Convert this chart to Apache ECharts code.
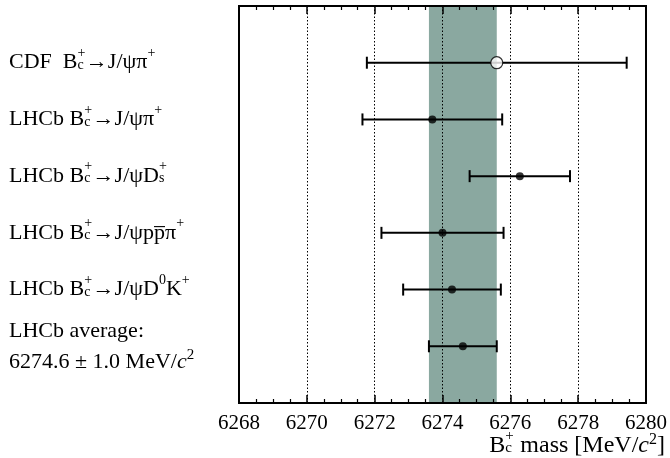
<!DOCTYPE html>
<html>
<head>
<meta charset="utf-8">
<script src="https://cdn.jsdelivr.net/npm/echarts@6/dist/echarts.min.js"></script>
<style>
  html, body { margin: 0; padding: 0; background: #fff; }
  #chart { width: 670px; height: 458px; }
</style>
</head>
<body>
<div id="chart"></div>
<script>
// measurements of the Bc+ mass, one row each (row 1 at the top)
const rows = [1, 2, 3, 4, 5, 6];
const masses = [6275.6, 6273.7, 6276.28, 6274.0, 6274.28, 6274.6];
const errors = [3.83, 2.06, 1.48, 1.8, 1.44, 1.0];
const hollow = [true, false, false, false, false, false];
const rowLabels = [
  '{t|CDF  B}{sp|+}{sb|c}{t|→J/ψπ}{up|+}',
  '{t|LHCb B}{sp|+}{sb|c}{t|→J/ψπ}{up|+}',
  '{t|LHCb B}{sp|+}{sb|c}{t|→J/ψD}{sp|+}{sb|s}',
  '{t|LHCb B}{sp|+}{sb|c}{t|→J/ψpp\u0305π}{up|+}',
  '{t|LHCb B}{sp|+}{sb|c}{t|→J/ψD}{up|0}{t|K}{up|+}',
  '{t|LHCb average:}\n{t|6274.6 ± 1.0 MeV/}{it|c}{sq|2}'
];
const averageMass = 6274.6;
const averageError = 1.0;
const xMin = 6268, xMax = 6280, xStep = 2;
const xTitle = '{t|B}{sp|+}{sb|c}{t| mass [MeV/}{it|c}{sq|2}{t|]}';

const serif = 'Liberation Serif';
function richSet(size, lh) {
  const small = Math.round(size * 0.64);
  const base = { fontFamily: serif, color: '#000', align: 'left' };
  return {
    t: { ...base, fontSize: size, lineHeight: lh },
    it: { ...base, fontSize: size, fontStyle: 'italic', lineHeight: lh },
    sp: { ...base, fontSize: small, padding: [0, 0, 19, 0], width: 0 },
    sb: { ...base, fontSize: small, padding: [5, 0, 0, 0], width: small * 0.6 },
    up: { ...base, fontSize: small, padding: [0, 0, 19, 0] },
    sq: { ...base, fontSize: small + 1, padding: [0, 0, 13, 0] }
  };
}

const points = rows.map((r, i) => ({
  value: [masses[i], r],
  symbol: 'circle',
  symbolSize: hollow[i] ? 12 : 8,
  itemStyle: hollow[i]
    ? { color: '#fff', borderColor: '#000', borderWidth: 1.2 }
    : { color: '#000' }
}));
const bars = rows.map((r, i) => [masses[i] - errors[i], masses[i] + errors[i], r]);

const chart = echarts.init(document.getElementById('chart'));
const tick = () => ({ show: true, inside: true, length: 8, lineStyle: { color: '#000', width: 1.5 } });
const minor = () => ({ show: true, splitNumber: 4, length: 4, lineStyle: { color: '#000', width: 1.2 } });
const frame = () => ({ show: true, onZero: false, lineStyle: { color: '#000', width: 2 } });

chart.setOption({
  animation: false,
  grid: {
    left: 239, right: 24, top: 6, bottom: 55, outerBoundsMode: 'none', containLabel: false,
    show: true, borderColor: '#000', borderWidth: 2, backgroundColor: 'transparent'
  },
  xAxis: [
    {
      type: 'value', min: xMin, max: xMax, interval: xStep, position: 'bottom', z: 3,
      axisLine: frame(), axisTick: tick(), minorTick: minor(),
      splitLine: { show: false },
      axisLabel: {
        color: '#000', fontFamily: serif, fontSize: 21, margin: 10,
        showMinLabel: true, showMaxLabel: true, hideOverlap: false, formatter: v => String(v)
      },
      name: xTitle, nameLocation: 'end', nameGap: 19, nameMoveOverlap: false,
      nameTextStyle: { align: 'right', verticalAlign: 'top', padding: [26, 0, 0, 0], rich: richSet(24, 30) }
    },
    {
      type: 'value', min: xMin, max: xMax, interval: xStep, position: 'top', z: 3,
      axisLine: frame(), axisTick: tick(), minorTick: minor(),
      axisLabel: { show: false },
      splitLine: { show: true, lineStyle: { color: '#000', width: 1, type: [1.5, 2] } }
    }
  ],
  yAxis: {
    type: 'value', min: 0, max: 7, interval: 1, inverse: true,
    axisLine: frame(),
    axisTick: { show: false },
    splitLine: { show: false },
    axisLabel: {
      align: 'left', margin: 230,
      formatter: v => rowLabels[v - 1] || '',
      rich: richSet(22, 31)
    }
  },
  series: [
    {
      type: 'custom', xAxisIndex: 0, z: 2,
      data: bars,
      renderItem: (params, api) => {
        const y = api.value(2);
        const lo = api.coord([api.value(0), y]);
        const hi = api.coord([api.value(1), y]);
        const st = { stroke: '#000', lineWidth: 2 };
        return {
          type: 'group',
          children: [
            { type: 'line', shape: { x1: lo[0], y1: lo[1], x2: hi[0], y2: hi[1] }, style: st },
            { type: 'line', shape: { x1: lo[0], y1: lo[1] - 6, x2: lo[0], y2: lo[1] + 6 }, style: st },
            { type: 'line', shape: { x1: hi[0], y1: hi[1] - 6, x2: hi[0], y2: hi[1] + 6 }, style: st }
          ]
        };
      },
      markArea: {
        silent: true,
        itemStyle: { color: '#8aa8a0' },
        data: [[{ xAxis: averageMass - averageError }, { xAxis: averageMass + averageError }]]
      }
    },
    {
      type: 'scatter', xAxisIndex: 0, z: 4,
      data: points
    }
  ]
});
</script>
</body>
</html>
